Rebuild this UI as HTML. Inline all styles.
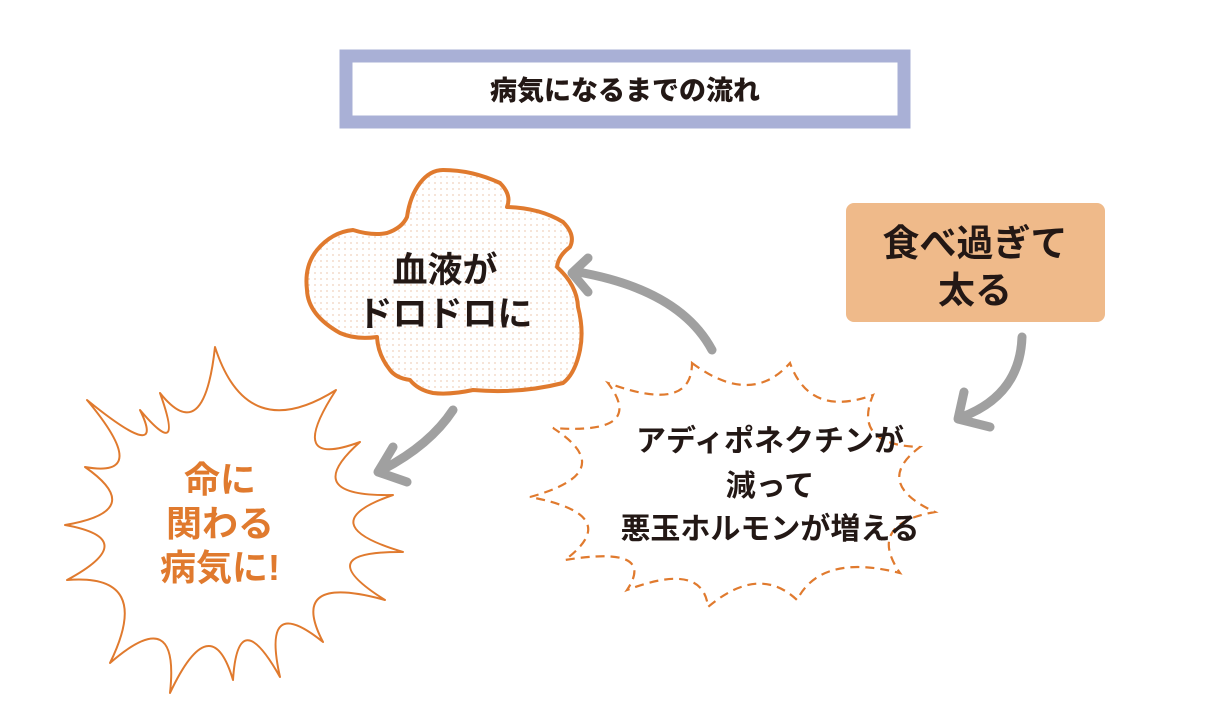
<!DOCTYPE html>
<html><head><meta charset="utf-8"><style>
html,body{margin:0;padding:0;background:#fff;}
svg{display:block;}
text{font-family:"Liberation Sans","Noto Sans CJK JP",sans-serif;font-weight:bold;}
</style></head><body>
<svg width="1224" height="714" viewBox="0 0 1224 714" xmlns="http://www.w3.org/2000/svg">
<defs>
<pattern id="dots" width="6" height="6" patternUnits="userSpaceOnUse">
<circle cx="3" cy="3" r="1" fill="#f3dccb"/>
</pattern>
</defs>
<rect x="346" y="56" width="558" height="66" fill="#fff" stroke="#a9b0d6" stroke-width="13"/>
<text x="625" y="100" font-size="27" text-anchor="middle" fill="#231815" style="font-weight:900">病気になるまでの流れ</text>

<path d="M443,170 Q472,170 500,183 Q512,195 507,207 Q540,208 563,222 Q576,235 570,247 Q558,256 557,267 Q577,285 578,307 Q584,330 580,350 Q575,374 563,383 Q520,394 473,390 Q450,395 433,393 Q418,390 410,380 Q396,378 390,370 Q378,355 377,337 Q356,340 340,333 Q308,315 307,290 Q304,266 317,250 Q332,232 353,230 Q372,236 387,233 Q402,228 407,217 Q410,196 420,183 Q430,170 443,170 Z" fill="url(#dots)" stroke="#e07a2e" stroke-width="4" stroke-linejoin="round"/>
<text x="445" y="282" font-size="35" text-anchor="middle" fill="#231815">血液が</text>
<text x="445" y="326" font-size="35" text-anchor="middle" fill="#231815">ドロドロに</text>

<path d="M215,347 Q247,446 336,390 Q284,470 360,442 Q298,497 393,495 Q309,524 403,552 Q307,551 385,600 Q287,573 323,642 Q261,592 280,677 Q238,602 233,680 Q211,606 170,693 Q180,602 110,663 Q154,573 67,580 Q143,539 65,525 Q148,511 85,467 Q153,479 87,400 Q167,465 140,410 Q185,463 160,393 Q204,448 215,347 Z" fill="#fff" stroke="#e07a2e" stroke-width="2" stroke-linejoin="round"/>
<text x="220" y="492" font-size="36" text-anchor="middle" fill="#e07a2e">命に</text>
<text x="220" y="536" font-size="36" text-anchor="middle" fill="#e07a2e">関わる</text>
<text x="220" y="580" font-size="36" text-anchor="middle" fill="#e07a2e">病気に!</text>

<path d="M692,363 Q751,407 790,363 Q810,418 873,395 Q852,445 920,447 Q872,483 935,512 Q866,524 900,573 Q821,553 797,600 Q759,564 708,607 Q703,561 627,590 Q657,545 565,560 Q625,515 530,497 Q621,472 553,428 Q647,435 608,383 Q692,414 692,363 Z" fill="#fff" stroke="#e07a2e" stroke-width="2.2" stroke-dasharray="9 6"/>
<text x="770" y="451" font-size="30" text-anchor="middle" fill="#231815">アディポネクチンが</text>
<text x="770" y="496" font-size="30" text-anchor="middle" fill="#231815">減って</text>
<text x="770" y="539" font-size="30" text-anchor="middle" fill="#231815">悪玉ホルモンが増える</text>

<rect x="846" y="203" width="259" height="119" rx="8" fill="#efba8a"/>
<text x="975" y="256" font-size="37" text-anchor="middle" fill="#231815">食べ過ぎて</text>
<text x="975" y="303" font-size="37" text-anchor="middle" fill="#231815">太る</text>

<g fill="none" stroke="#a0a0a0" stroke-width="9" stroke-linecap="round" stroke-linejoin="round">
<path d="M712,350 Q680,290 578,272"/>
<path d="M588,258 L572,273 L588,292"/>
<path d="M1022,337 Q1020,395 962,417"/>
<path d="M964,392 L958,419 L990,427"/>
<path d="M453,410 Q430,445 382,470"/>
<path d="M393,447 L378,472 L407,482"/>
</g>
</svg>
</body></html>
